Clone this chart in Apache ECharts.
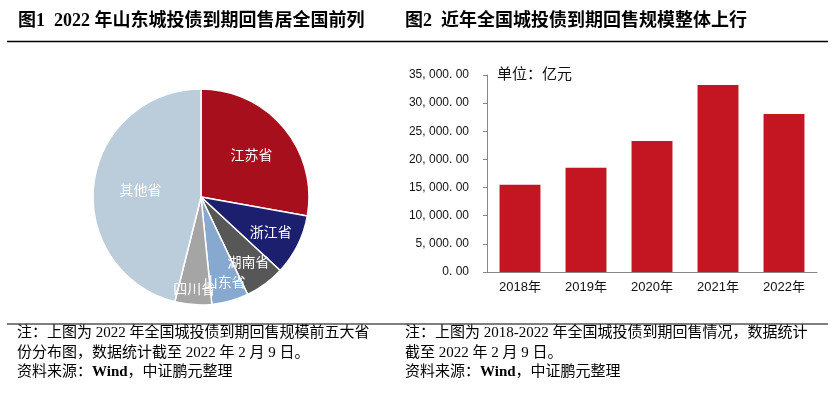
<!DOCTYPE html>
<html>
<head>
<meta charset="utf-8">
<script src="https://cdn.jsdelivr.net/npm/echarts@6/dist/echarts.min.js"></script>
<style>
  html, body { margin: 0; padding: 0; background: #fff; }
  #main { width: 837px; height: 395px; }
</style>
</head>
<body>
<div id="main"></div>
<script>
// ---- data ----
const provinces = ['江苏省', '浙江省', '湖南省', '山东省', '四川省', '其他省'];
const provinceShares = [27.8, 9.1, 6.0, 5.5, 5.5, 46.1];
const years = ['2018年', '2019年', '2020年', '2021年', '2022年'];
const putbackValues = [15480, 18500, 23290, 33230, 28080];
const yTicks = { min: 0, max: 35000, interval: 5000 };

// ---- styles ----
const pieColors = ['#A80F1D', '#1C1F6E', '#575757', '#87A9CF', '#A5A5A5', '#BBCCDB'];
const pieLabelRadius = [66, 78, 80, 88, 92, 61];
const PIE_CX = 201, PIE_CY = 197, PIE_R = 108;
const CJK = '"Noto Sans CJK SC", sans-serif';
const SERIF = '"Liberation Serif", "Noto Sans CJK SC", serif';

function fmtY(v) {
  const s = v.toFixed(2);
  const parts = s.split('.');
  const intPart = parts[0].replace(/\B(?=(\d{3})+(?!\d))/g, ', ');
  return intPart + '. ' + parts[1];
}

const chart = echarts.init(document.getElementById('main'), null, { renderer: 'canvas' });

const noteStyle = { fontSize: 15, fontFamily: SERIF, fill: '#000' };

chart.setOption({
  backgroundColor: '#fff',
  animation: false,
  grid: { left: 487, right: 20, top: 75, bottom: 123 },
  xAxis: {
    type: 'category',
    data: years,
    axisLine: { lineStyle: { color: '#878787', width: 1 } },
    axisTick: { show: false },
    axisLabel: { color: '#111', fontSize: 13, fontFamily: '"Liberation Sans", "Noto Sans CJK SC", sans-serif', margin: 9 }
  },
  yAxis: {
    type: 'value',
    min: yTicks.min, max: yTicks.max, interval: yTicks.interval,
    axisLine: { show: true, lineStyle: { color: '#878787', width: 1 } },
    axisTick: { show: true, length: 4, lineStyle: { color: '#878787' } },
    splitLine: { show: false },
    axisLabel: { color: '#111', fontSize: 12, fontFamily: '"Liberation Sans", sans-serif', margin: 18, formatter: fmtY }
  },
  series: [
    {
      type: 'bar',
      data: putbackValues,
      barWidth: '62%',
      itemStyle: { color: '#C41522' },
      silent: true
    },
    {
      type: 'pie',
      center: [PIE_CX, PIE_CY],
      radius: PIE_R,
      startAngle: 90,
      clockwise: true,
      silent: true,
      data: provinces.map((n, i) => ({ name: n, value: provinceShares[i], itemStyle: { color: pieColors[i] } })),
      itemStyle: { borderColor: '#fff', borderWidth: 1.5 },
      label: {
        show: true, position: 'inside', formatter: '{b}',
        color: '#fff', fontSize: 14, fontFamily: CJK
      },
      labelLine: { show: false },
      labelLayout: function (params) {
        const r = params.labelRect;
        const lx = r.x + r.width / 2, ly = r.y + r.height / 2;
        const vx = lx - PIE_CX, vy = ly - PIE_CY;
        const len = Math.sqrt(vx * vx + vy * vy) || 1;
        const L = pieLabelRadius[params.dataIndex];
        return { x: PIE_CX + vx / len * L, y: PIE_CY + vy / len * L, align: 'center', verticalAlign: 'middle' };
      }
    }
  ],
  graphic: [
    { type: 'text', left: 18, top: 12, style: { text: '图1  2022 年山东城投债到期回售居全国前列', fontSize: 18, fontWeight: 'bold', fontFamily: SERIF, fill: '#000' } },
    { type: 'text', left: 405, top: 12, style: { text: '图2  近年全国城投债到期回售规模整体上行', fontSize: 18, fontWeight: 'bold', fontFamily: SERIF, fill: '#000' } },
    { type: 'line', shape: { x1: 7, y1: 41.5, x2: 828, y2: 41.5 }, style: { stroke: '#000', lineWidth: 1.6 } },
    { type: 'line', shape: { x1: 7, y1: 324, x2: 828, y2: 324 }, style: { stroke: '#000', lineWidth: 1 } },
    { type: 'text', left: 497, top: 66, style: { text: '单位：亿元', fontSize: 15, fontFamily: CJK, fill: '#111' } },
    { type: 'text', left: 17, top: 326, style: Object.assign({ text: '注：上图为 2022 年全国城投债到期回售规模前五大省' }, noteStyle) },
    { type: 'text', left: 17, top: 346, style: Object.assign({ text: '份分布图，数据统计截至 2022 年 2 月 9 日。' }, noteStyle) },
    { type: 'text', left: 17, top: 365, style: Object.assign({ text: '资料来源：{b|Wind}，中证鹏元整理', rich: { b: { fontSize: 15, fontFamily: SERIF, fontWeight: 'bold' } } }, noteStyle) },
    { type: 'text', left: 405, top: 326, style: Object.assign({ text: '注：上图为 2018-2022 年全国城投债到期回售情况，数据统计' }, noteStyle) },
    { type: 'text', left: 405, top: 346, style: Object.assign({ text: '截至 2022 年 2 月 9 日。' }, noteStyle) },
    { type: 'text', left: 405, top: 365, style: Object.assign({ text: '资料来源：{b|Wind}，中证鹏元整理', rich: { b: { fontSize: 15, fontFamily: SERIF, fontWeight: 'bold' } } }, noteStyle) }
  ]
});
</script>
</body>
</html>
